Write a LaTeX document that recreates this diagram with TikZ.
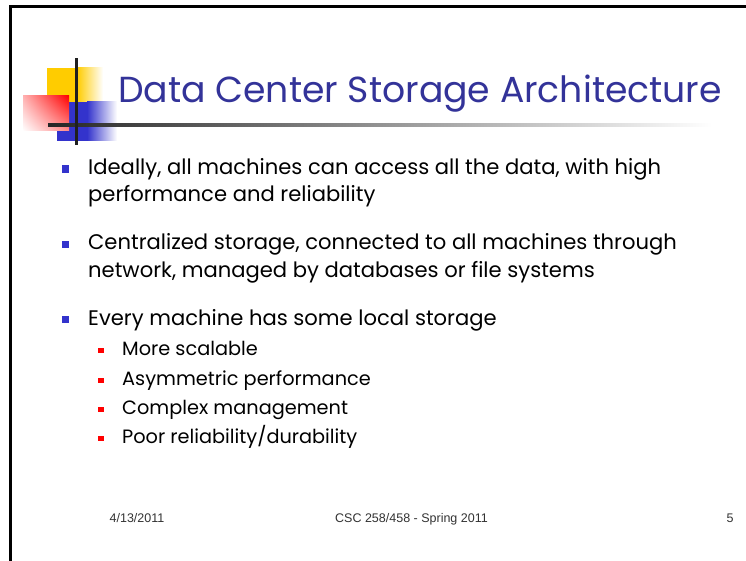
\documentclass[tikz,border=0pt]{standalone}
\usepackage{fontspec}
\setmainfont{Poppins}
\newfontfamily\footfont{Liberation Sans}
\usetikzlibrary{positioning,shadings}
\definecolor{titleblue}{RGB}{51,51,153}
\definecolor{bulletblue}{RGB}{51,51,204}
\definecolor{logoyellow}{RGB}{255,204,0}
\definecolor{logored}{RGB}{255,0,0}

\begin{document}
\begin{tikzpicture}[x=1pt,y=-1pt,
    title/.style={
% The font:
font=\fontsize{36.2}{42}\selectfont,
text=titleblue,
% The placement:
anchor=base west, inner sep=0pt,
},
    item/.style={
% The font:
font=\fontsize{21.1}{25}\selectfont,
% The placement:
anchor=base west, inner sep=0pt,
},
    subitem/.style={
% The font:
font=\fontsize{19.3}{23}\selectfont,
% The placement:
anchor=base west, inner sep=0pt,
},
    bullet/.style={
% The shape:
rectangle,
% The size:
minimum size=7.5pt, inner sep=0pt,
% The fill:
fill=bulletblue,
},
    subbullet/.style={
% The shape:
rectangle,
% The size:
minimum size=5.5pt, inner sep=0pt,
% The fill:
fill=logored,
},
    footer/.style={
font=\footfont\fontsize{12.5}{14}\selectfont,
text=black!80, anchor=base, inner sep=0pt,
},
]
  \useasboundingbox (0,0) rectangle (746,561);
  \fill[white] (0,0) rectangle (746,561);
  % slide frame
  \draw[line width=2.8pt] (10.5,561) -- (10.5,6.2) -- (746,6.2);

  % logo squares
  \fill[logoyellow] (47,68) rectangle (77,102);
  \shade[left color=logoyellow, right color=white] (77,68) rectangle (103,102);
  \fill[bulletblue] (57,102) rectangle (87,141);
  \shade[left color=bulletblue, right color=white] (87,102) rectangle (117,141);
  \shade[upper right=logored, upper left=logored!30, lower right=logored!45,
         lower left=white] (23,96) rectangle (69,131);
  \shade[left color=black!85, right color=white] (48,123.5) rectangle (712,126.5);
  \fill[black!88] (74.5,58) rectangle (77.5,145);

  \node[title] (T) at (118,103) {Data Center Storage Architecture};

  \node[item] (i1a) at (88,175) {Ideally, all machines can access all the data, with high};
  \node[item] (i1b) at (88,202) {performance and reliability};
  \node[item] (i2a) at (88,250) {Centralized storage, connected to all machines through};
  \node[item] (i2b) at (88,277) {network, managed by databases or file systems};
  \node[item] (i3)  at (88,325) {Every machine has some local storage};
  \node[bullet] (b1) at (65.5,169) {};
  \node[bullet] (b2) at (65.5,244.5) {};
  \node[bullet] (b3) at (65.5,319.5) {};

  \node[subitem] (s1) at (122,355) {More scalable};
  \node[subitem] (s2) at (122,385) {Asymmetric performance};
  \node[subitem] (s3) at (122,414) {Complex management};
  \node[subitem] (s4) at (122,443) {Poor reliability/durability};
  \node[subbullet] (r1) at (101,350.5) {};
  \node[subbullet] (r2) at (101,380.5) {};
  \node[subbullet] (r3) at (101,409.5) {};
  \node[subbullet] (r4) at (101,438.5) {};

  \node[footer] (date)  at (137,522) {4/13/2011};
  \node[footer] (course) at (411.5,522) {CSC 258/458 - Spring 2011};
  \node[footer] (page)  at (730,522) {5};
\end{tikzpicture}
\end{document}
